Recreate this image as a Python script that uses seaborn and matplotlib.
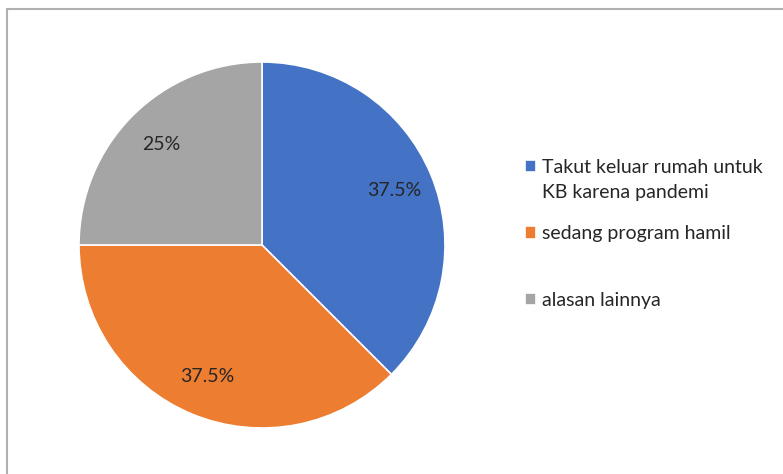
import matplotlib.pyplot as plt
import matplotlib.patches as mpatches
import seaborn as sns

# data
kategori = ["Takut keluar rumah untuk", "sedang program hamil", "alasan lainnya"]
lanjutan = "KB karena pandemi"  # second line of the first legend label
persen = [37.5, 37.5, 25]
warna = ["#4472C4", "#ED7D31", "#A5A5A5"]

sns.set_theme(style="white")
plt.rcParams['font.family'] = ['Lato', 'DejaVu Sans']

W, H = 783, 474
fig = plt.figure(figsize=(W / 100, H / 100), dpi=100)

# pie axes (pixel based)
cx, cy, r = 262, 245, 183
ax = fig.add_axes([(cx - r) / W, (H - cy - r) / H, 2 * r / W, 2 * r / H])

wedges, texts, autotexts = ax.pie(
    persen, colors=sns.color_palette(warna), startangle=90, counterclock=False,
    autopct=lambda p: f"{p:g}%", pctdistance=0.78,
    wedgeprops=dict(edgecolor="white", linewidth=1.2),
    textprops=dict(fontsize=14, color="#262626"))
ax.set_aspect("equal")
ax.set_xlim(-1, 1)
ax.set_ylim(-1, 1)

leg = fig.legend(wedges, kategori, loc="upper left", bbox_to_anchor=(517 / W, 1 - 151 / H),
                 frameon=False, fontsize=14, handlelength=0.6, handleheight=0.6,
                 handletextpad=0.3, labelspacing=2.55, borderaxespad=0)
for t in leg.get_texts():
    t.set_color("#262626")

# second line of first legend entry, placed under its first line
fig.canvas.draw()
bb = leg.get_texts()[0].get_window_extent()
fig.text(bb.x0 / W, (bb.y0 - 25) / H, lanjutan, fontsize=14, color="#262626",
         ha="left", va="bottom")

# chart border
fig.patches.append(mpatches.Rectangle((7 / W, -0.1), 2, (H - 9) / H + 0.1, transform=fig.transFigure,
                                      fill=False, edgecolor="#B0B0B0", linewidth=1.5))

fig.savefig("out.png", dpi=100)
